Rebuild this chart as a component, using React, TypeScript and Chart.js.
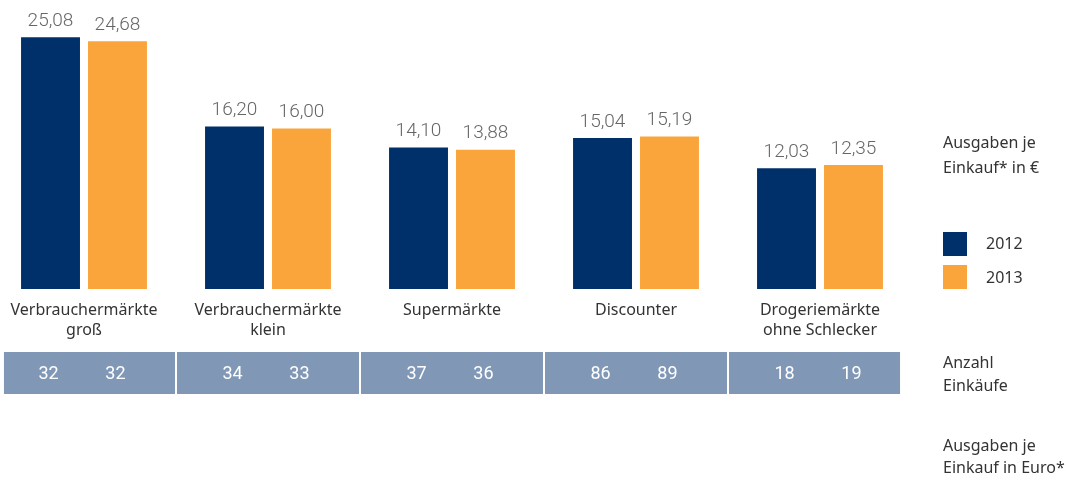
import React, { useEffect, useRef } from "react";
import { Chart, registerables } from "chart.js";

Chart.register(...registerables);

const categories: string[][] = [
  ["Verbrauchermärkte", "groß"],
  ["Verbrauchermärkte", "klein"],
  ["Supermärkte"],
  ["Discounter"],
  ["Drogeriemärkte", "ohne Schlecker"],
];
const years = ["2012", "2013"];
const spend2012 = [25.08, 16.2, 14.1, 15.04, 12.03];
const spend2013 = [24.68, 16.0, 13.88, 15.19, 12.35];
const purchases2012 = [32, 34, 37, 86, 18];
const purchases2013 = [32, 33, 36, 89, 19];
const seriesColors = ["#00306A", "#FAA53C"];
const tableColor = "#8098B6";

const fmt = (v: number) => v.toFixed(2).replace(".", ",");

const overlayPlugin = {
  id: "overlay",
  afterDatasetsDraw(chart: any) {
    const ctx = chart.ctx as CanvasRenderingContext2D;
    const x = chart.scales.x;
    const bottom = chart.chartArea.bottom;
    ctx.save();
    ctx.textAlign = "center";
    ctx.textBaseline = "middle";

    // value labels
    ctx.font = "300 19px Roboto";
    ctx.fillStyle = "#666666";
    chart.data.datasets.forEach((ds: any, di: number) => {
      chart.getDatasetMeta(di).data.forEach((el: any, i: number) => {
        ctx.fillText(fmt(ds.data[i]), el.x, el.y - 16);
      });
    });

    // category labels
    ctx.font = "16px 'Noto Sans'";
    ctx.fillStyle = "#333333";
    categories.forEach((lines, i) => {
      const px = x.getPixelForValue(i);
      lines.forEach((l, j) => ctx.fillText(l, px, bottom + 21 + j * 20));
    });

    // table strip
    const n = categories.length;
    const step = x.getPixelForValue(1) - x.getPixelForValue(0);
    const half = step * 0.435;
    const left = x.getPixelForValue(0) - half;
    const right = x.getPixelForValue(n - 1) + half;
    const top = bottom + 63;
    const h = 42;
    ctx.fillStyle = tableColor;
    ctx.fillRect(left, top, right - left, h);
    ctx.fillStyle = "#ffffff";
    for (let i = 0; i < n - 1; i++) {
      const mx = (x.getPixelForValue(i) + x.getPixelForValue(i + 1)) / 2;
      ctx.fillRect(mx - 1, top, 2, h);
    }
    const counts = [purchases2012, purchases2013];
    ctx.font = "18px Roboto";
    ctx.fillStyle = "#ffffff";
    counts.forEach((arr, di) => {
      chart.getDatasetMeta(di).data.forEach((el: any, i: number) => {
        ctx.fillText(String(arr[i]), el.x - 2, top + h / 2 + 1);
      });
    });
    ctx.restore();
  },
};

const textStyle: React.CSSProperties = {
  position: "absolute",
  left: 943,
  fontFamily: "'Noto Sans', sans-serif",
  fontSize: 16,
  color: "#333333",
  whiteSpace: "nowrap",
};

export default function App() {
  const ref = useRef<HTMLCanvasElement | null>(null);

  useEffect(() => {
    if (!ref.current) return;
    const chart = new Chart(ref.current, {
      type: "bar",
      data: {
        labels: categories.map((c) => c.join(" ")),
        datasets: [
          {
            label: years[0],
            data: spend2012,
            backgroundColor: seriesColors[0],
            categoryPercentage: 0.728,
            barPercentage: 0.88,
            clip: false,
          } as any,
          {
            label: years[1],
            data: spend2013,
            backgroundColor: seriesColors[1],
            categoryPercentage: 0.728,
            barPercentage: 0.88,
            clip: false,
          } as any,
        ],
      },
      options: {
        responsive: false,
        animation: false,
        layout: { padding: { left: 84, right: 246, top: 8, bottom: 191 } },
        plugins: { legend: { display: false }, tooltip: { enabled: false } },
        scales: {
          x: { display: false, offset: false },
          y: { display: false, min: 0, max: 28 },
        },
      },
      plugins: [overlayPlugin],
    });
    return () => chart.destroy();
  }, []);

  return (
    <div
      style={{
        position: "absolute",
        left: 0,
        top: 0,
        width: 1066,
        height: 480,
        background: "#ffffff",
      }}
    >
      <canvas ref={ref} width={1066} height={480} style={{ position: "absolute", left: 0, top: 0 }} />
      <div style={{ ...textStyle, top: 130, lineHeight: "25px" }}>
        Ausgaben je
        <br />
        Einkauf* in €
      </div>
      <div
        style={{
          position: "absolute",
          left: 943,
          top: 232,
          width: 24,
          height: 24,
          background: seriesColors[0],
        }}
      />
      <div style={{ ...textStyle, left: 986, top: 231, lineHeight: "24px" }}>{years[0]}</div>
      <div
        style={{
          position: "absolute",
          left: 943,
          top: 265,
          width: 24,
          height: 24,
          background: seriesColors[1],
        }}
      />
      <div style={{ ...textStyle, left: 986, top: 265, lineHeight: "24px" }}>{years[1]}</div>
      <div style={{ ...textStyle, top: 351, lineHeight: "23px" }}>
        Anzahl
        <br />
        Einkäufe
      </div>
      <div style={{ ...textStyle, top: 434, lineHeight: "22px" }}>
        Ausgaben je
        <br />
        Einkauf in Euro*
      </div>
    </div>
  );
}
